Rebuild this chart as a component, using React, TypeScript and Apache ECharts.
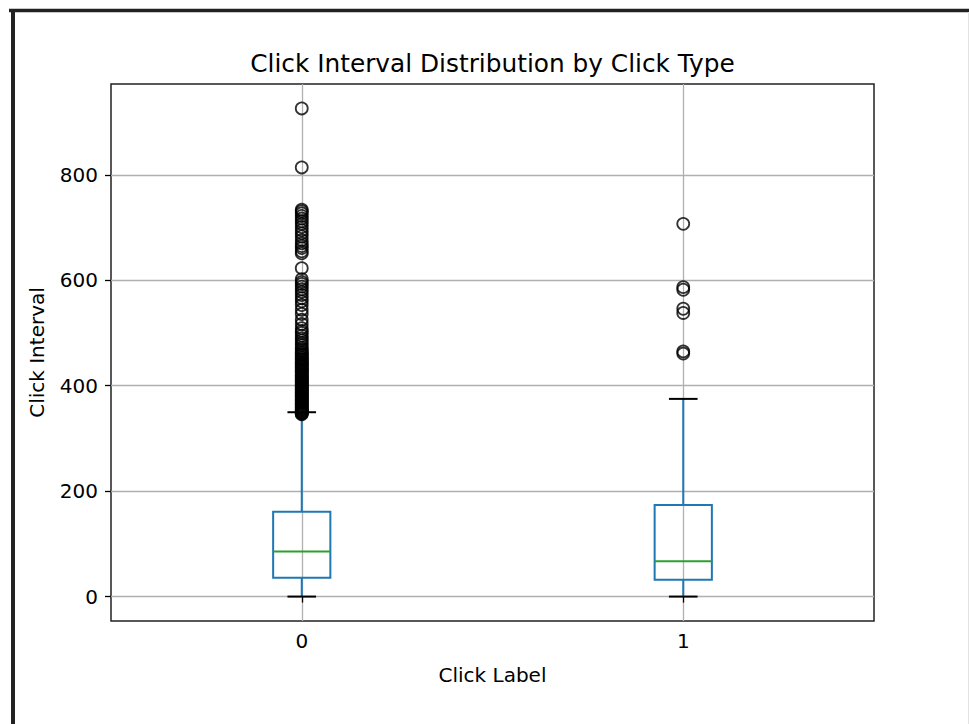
import React, { useEffect, useRef } from "react";
import * as echarts from "echarts";

const categories = ["0", "1"];
const whiskerLow = [0, 0];
const q1 = [35.6, 31.8];
const median = [85.5, 67.2];
const q3 = [161, 173.7];
const whiskerHigh = [349.7, 375];
const outliers0 = [
  926, 814, 734, 731, 727, 722, 717, 712, 707, 701, 695, 689, 683, 676, 670, 665, 661, 655, 651,
  623, 602, 597, 593, 588, 583, 578, 572, 566, 560, 553, 544, 536, 525, 517, 509, 504, 500, 495,
  490, 486, 481, 477, 472, 469, 466, 463, 461, 459, 457, 454, 452, 450, 449, 446, 444, 442, 441,
  439, 437, 435, 433, 431, 429, 428, 426, 424, 421, 420, 418, 416, 414, 412, 410, 409, 407, 405,
  403, 401, 400, 398, 396, 394, 393, 391, 389, 387, 386, 384, 382, 380, 379, 377, 375, 373, 372,
  370, 368, 366, 365, 363, 361, 359, 358, 356, 355, 353, 352, 350, 349, 348, 347, 346,
];
const outliers1 = [707, 587, 582, 546, 538, 465, 461];
const yTicks = [0, 200, 400, 600, 800];
const titleText = "Click Interval Distribution by Click Type";
const xName = "Click Label";
const yName = "Click Interval";

const FONT = "DejaVu Sans";
const BLUE = "#1f77b4";
const GREEN = "#2ca02c";

export default function App() {
  const ref = useRef<HTMLDivElement>(null);
  useEffect(() => {
    if (!ref.current) return;
    const chart = echarts.init(ref.current, null, { renderer: "svg" });
    const boxData = categories.map((_, i) => [i, whiskerLow[i], q1[i], median[i], q3[i], whiskerHigh[i]]);
    const flierData: number[][] = [];
    outliers0.forEach((v) => flierData.push([0, v]));
    outliers1.forEach((v) => flierData.push([1, v]));
    const L = 111, T = 84, W = 763, H = 537;
    chart.setOption({
      animation: false,
      backgroundColor: "#ffffff",
      grid: { left: L, top: T, width: W, height: H, show: true, borderColor: "#222", borderWidth: 1.5, backgroundColor: "transparent" },
      xAxis: {
        type: "category",
        data: categories,
        boundaryGap: true,
        axisLine: { show: false },
        axisTick: { show: true, alignWithLabel: true, length: 6, lineStyle: { color: "#000", width: 1.3 } },
        axisLabel: { color: "#000", fontFamily: FONT, fontSize: 20, margin: 10 },
        splitLine: { show: true, alignWithLabel: true, lineStyle: { color: "#b0b0b0", width: 1.3 } },
      },
      yAxis: {
        type: "value",
        min: -46.3,
        max: 972.3,
        splitNumber: 5,
        axisLine: { show: false },
        axisTick: { show: true, customValues: yTicks, length: 6, lineStyle: { color: "#000", width: 1.3 } },
        axisLabel: { color: "#000", fontFamily: FONT, fontSize: 20, margin: 13, customValues: yTicks },
        splitLine: { show: true, lineStyle: { color: "#b0b0b0", width: 1.3 } },
      },
      series: [
        {
          type: "custom",
          data: boxData,
          z: 3,
          renderItem: (params: any, api: any) => {
            const c = api.value(0);
            const pLo = api.coord([c, api.value(1)]);
            const pQ1 = api.coord([c, api.value(2)]);
            const pMed = api.coord([c, api.value(3)]);
            const pQ3 = api.coord([c, api.value(4)]);
            const pHi = api.coord([c, api.value(5)]);
            const band = api.size([1, 0])[0];
            const half = (band * 0.15) / 2;
            const capHalf = half / 2;
            const x = pLo[0];
            const lw = 2;
            return {
              type: "group",
              children: [
                { type: "line", shape: { x1: x, y1: pQ3[1], x2: x, y2: pHi[1] }, style: { stroke: BLUE, lineWidth: lw } },
                { type: "line", shape: { x1: x, y1: pQ1[1], x2: x, y2: pLo[1] }, style: { stroke: BLUE, lineWidth: lw } },
                {
                  type: "rect",
                  shape: { x: x - half, y: pQ3[1], width: half * 2, height: pQ1[1] - pQ3[1] },
                  style: { fill: "none", stroke: BLUE, lineWidth: lw },
                },
                { type: "line", shape: { x1: x - half, y1: pMed[1], x2: x + half, y2: pMed[1] }, style: { stroke: GREEN, lineWidth: lw } },
                { type: "line", shape: { x1: x - capHalf, y1: pHi[1], x2: x + capHalf, y2: pHi[1] }, style: { stroke: "#000", lineWidth: lw } },
                { type: "line", shape: { x1: x - capHalf, y1: pLo[1], x2: x + capHalf, y2: pLo[1] }, style: { stroke: "#000", lineWidth: lw } },
              ],
            };
          },
        },
        {
          type: "scatter",
          data: flierData,
          z: 4,
          symbol: "circle",
          symbolSize: 12,
          itemStyle: { color: "rgba(0,0,0,0)", borderColor: "#000", borderWidth: 1.8 },
        },
      ],
      graphic: [
        { type: "line", shape: { x1: 9, y1: 10.5, x2: 969, y2: 10.5 }, style: { stroke: "#222", lineWidth: 3.5 } },
        { type: "line", shape: { x1: 13, y1: 9, x2: 13, y2: 724 }, style: { stroke: "#222", lineWidth: 4 } },
        { type: "line", shape: { x1: 968.5, y1: 12, x2: 968.5, y2: 724 }, style: { stroke: "#e2e2e2", lineWidth: 1 } },
        {
          type: "text",
          x: L + W / 2,
          y: 63,
          style: { text: titleText, fontFamily: FONT, fontSize: 24.8, fill: "#000", align: "center", verticalAlign: "middle" },
        },
        {
          type: "text",
          x: L + W / 2,
          y: 675,
          style: { text: xName, fontFamily: FONT, fontSize: 20, fill: "#000", align: "center", verticalAlign: "middle" },
        },
        {
          type: "text",
          x: 37,
          y: T + H / 2,
          rotation: Math.PI / 2,
          style: { text: yName, fontFamily: FONT, fontSize: 20, fill: "#000", align: "center", verticalAlign: "middle" },
        },
      ],
    });
    return () => chart.dispose();
  }, []);
  return <div ref={ref} style={{ position: "fixed", left: 0, top: 0, width: 969, height: 724 }} />;
}
